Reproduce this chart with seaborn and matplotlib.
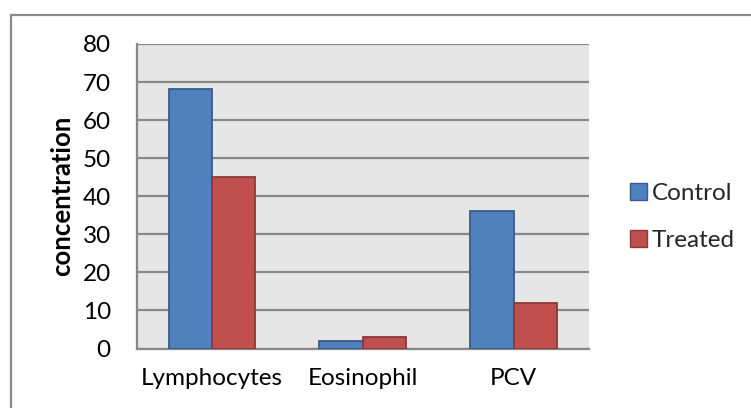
import matplotlib
matplotlib.use("Agg")
import matplotlib.pyplot as plt
from matplotlib.patches import Rectangle
import pandas as pd
import seaborn as sns

# Blood parameters, control vs treated
categories = ["Lymphocytes", "Eosinophil", "PCV"]
control = [68.3, 2, 36]
treated = [45, 3, 12]
groups = ["Control", "Treated"]
y_ticks = [0, 10, 20, 30, 40, 50, 60, 70, 80]

df = pd.DataFrame({
    "parameter": categories * 2,
    "group": [groups[0]] * len(categories) + [groups[1]] * len(categories),
    "value": control + treated,
})

sns.set_theme(style="white")
plt.rcParams["font.family"] = ["Lato", "DejaVu Sans"]

fill = {"Control": "#4F81BD", "Treated": "#C0504D"}
edge = {"Control": "#385D8A", "Treated": "#8C3836"}
grid_col = "#888888"
fs = 17.5

fig = plt.figure(figsize=(7.51, 4.08), dpi=100)
ax = fig.add_axes([136.5 / 751, 1 - 348.5 / 408, (589 - 136.5) / 751, (348.5 - 44) / 408])

sns.barplot(data=df, x="parameter", y="value", hue="group", order=categories,
            hue_order=groups, palette=fill, width=0.575, gap=0, errorbar=None,
            saturation=1, ax=ax, zorder=3)

for cont, g in zip(ax.containers, groups):
    for bar in cont:
        bar.set_edgecolor(edge[g])
        bar.set_linewidth(1.3)

ax.set_facecolor("#E6E6E6")
ax.set_ylim(0, 80)
ax.set_yticks(y_ticks)
ax.set_xlim(-0.5, len(categories) - 0.5)
ax.yaxis.grid(True, color=grid_col, linewidth=1.6, zorder=1)
ax.set_axisbelow(True)

for side in ["top", "right"]:
    ax.spines[side].set_visible(False)
for side in ["left", "bottom"]:
    ax.spines[side].set_color(grid_col)
    ax.spines[side].set_linewidth(1.6)

# category ticks sit on the boundaries between groups
ax.set_xticks([i - 0.5 for i in range(len(categories) + 1)], minor=True)
ax.set_xticks(range(len(categories)))
ax.set_xticklabels(categories)
ax.tick_params(axis="x", which="major", length=0, pad=14, labelsize=fs, labelcolor="black")
ax.tick_params(axis="x", which="minor", length=6.5, width=1.6, color=grid_col, direction="out")
ax.tick_params(axis="y", length=6.5, width=1.6, color=grid_col, direction="out",
               pad=12, labelsize=fs, labelcolor="black")

ax.set_xlabel("")
ax.set_ylabel("concentration", fontsize=18.5, fontweight="bold", color="black", labelpad=6)

handles, labels = ax.get_legend_handles_labels()
for h, g in zip(handles, labels):
    h.set_edgecolor(edge[g])
ax.legend(handles, labels, loc="center left", bbox_to_anchor=(630 / 751, 1 - 217 / 408),
          bbox_transform=fig.transFigure, frameon=False, fontsize=fs,
          handlelength=0.68, handleheight=0.68, handletextpad=0.2, labelspacing=1.05,
          borderpad=0, borderaxespad=0)

# chart frame
fig.patches.append(Rectangle((10.5 / 751, -0.1), 1.2, 1 - 14.5 / 408 + 0.1,
                             transform=fig.transFigure, fill=False,
                             edgecolor="#8A8A8A", linewidth=1.6, zorder=0))

fig.savefig("out.png", dpi=100)
